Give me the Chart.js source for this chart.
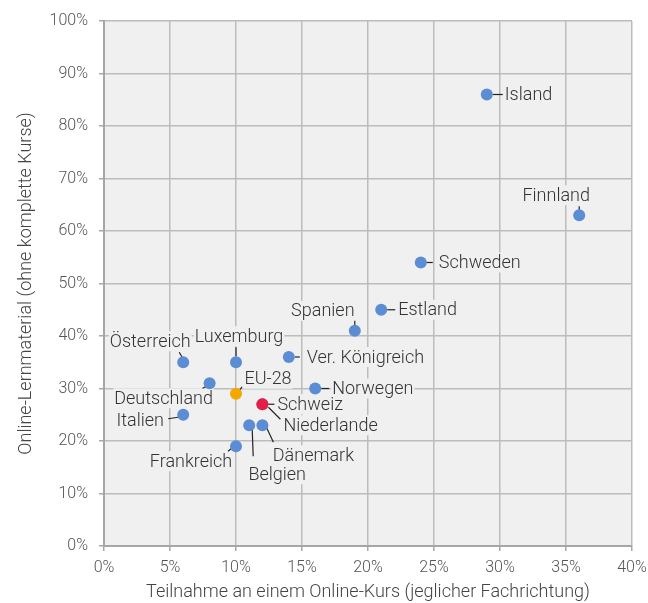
<!DOCTYPE html>
<html>
<head>
<meta charset="utf-8">
<script src="https://cdn.jsdelivr.net/npm/chart.js@4/dist/chart.umd.min.js"></script>
<style>
  html, body { margin: 0; padding: 0; background: #fff; }
  #wrap { width: 648px; height: 603px; }
</style>
</head>
<body>
<div id="wrap"><canvas id="chart"></canvas></div>
<script>
// Werte in Prozent
const countries = ['Island', 'Finnland', 'Schweden', 'Estland', 'Spanien', 'Ver. Königreich',
    'Norwegen', 'Österreich', 'Luxemburg', 'Deutschland', 'Italien', 'Niederlande',
    'Dänemark', 'Belgien', 'Frankreich', 'EU-28', 'Schweiz'];
const courseShare = [29, 36, 24, 21, 19, 14, 16, 6, 10, 8, 6, 12, 12, 11, 10, 10, 12];
const materialShare = [86, 63, 54, 45, 41, 36, 30, 35, 35, 31, 25, 27, 23, 23, 19, 29, 27];
const xTicks = [0, 5, 10, 15, 20, 25, 30, 35, 40];
const yTicks = [0, 10, 20, 30, 40, 50, 60, 70, 80, 90, 100];

const BLUE = '#5b8dd4', ORANGE = '#f5a700', RED = '#e61d45';
const pointColors = countries.map(c => c === 'EU-28' ? ORANGE : c === 'Schweiz' ? RED : BLUE);

// Beschriftung: Versatz des Textes zum Punkt, Ausrichtung, Führungslinie (Pixel)
const labelStyle = {
    'Island':          { dx: 18,  dy: 0,   align: 'left',   line: [6, 0, 16, 0] },
    'Finnland':        { dx: -23, dy: -20, align: 'center', line: [0, -9, 0, -4] },
    'Schweden':        { dx: 18,  dy: 0,   align: 'left',   line: [5, 0, 12, 0] },
    'Estland':         { dx: 17,  dy: 0,   align: 'left',   line: [6, 0, 14, 0] },
    'Spanien':         { dx: -32, dy: -20, align: 'center', line: [0, -10, 0, -3] },
    'Ver. Königreich': { dx: 18,  dy: 0,   align: 'left',   line: [6, 0, 11, 0] },
    'Norwegen':        { dx: 17,  dy: 0,   align: 'left',   line: [6, 0, 14, 0] },
    'Österreich':      { dx: -33, dy: -21, align: 'center', line: [-4, -10, -1, -5] },
    'Luxemburg':       { dx: 3,   dy: -26, align: 'center', line: [0, -15, 0, -6] },
    'Deutschland':     { dx: -46, dy: 15,  align: 'center', line: [-7, 5, -1, 2] },
    'EU-28':           { dx: 32,  dy: -15, align: 'center', line: [2, -1, 6, -7] },
    'Italien':         { dx: -43, dy: 6,   align: 'center', line: [-15, 4, -2, 2] },
    'Schweiz':         { dx: 15,  dy: 0,   align: 'left',   line: [5, 0, 12, 0] },
    'Niederlande':     { dx: 21,  dy: 21,  align: 'left',   line: [6, 3, 18, 15] },
    'Dänemark':        { dx: 51,  dy: 30,  align: 'center', line: [4, 2, 11, 17] },
    'Belgien':         { dx: 28,  dy: 49,  align: 'center', line: [3, 4, 4, 31] },
    'Frankreich':      { dx: -45, dy: 15,  align: 'center', line: [-8, 5, -3, 1] }
};

const PLOT_BG = '#f0f0f0';
const FONT = 'Roboto';

const plotBackground = {
    id: 'plotBackground',
    beforeDraw(chart) {
        const { ctx, chartArea: a } = chart;
        ctx.save();
        ctx.fillStyle = PLOT_BG;
        ctx.fillRect(a.left, a.top, a.right - a.left, a.bottom - a.top);
        ctx.restore();
    }
};

const pointLabels = {
    id: 'pointLabels',
    beforeDatasetsDraw(chart) {
        const { ctx } = chart;
        const meta = chart.getDatasetMeta(0);
        ctx.save();
        ctx.font = '300 18px ' + FONT;
        ctx.textBaseline = 'middle';
        countries.forEach((name, i) => {
            const s = labelStyle[name];
            const p = meta.data[i];
            const tx = p.x + s.dx, ty = p.y + s.dy;
            const w = ctx.measureText(name).width;
            const left = s.align === 'left' ? tx : tx - w / 2;
            ctx.fillStyle = PLOT_BG;
            ctx.fillRect(left - 1, ty - 10, w + 2, 20);
            ctx.strokeStyle = '#222';
            ctx.lineWidth = 1.2;
            ctx.beginPath();
            ctx.moveTo(p.x + s.line[0], p.y + s.line[1]);
            ctx.lineTo(p.x + s.line[2], p.y + s.line[3]);
            ctx.stroke();
            ctx.fillStyle = '#333';
            ctx.textAlign = s.align;
            ctx.fillText(name, tx, ty + 1);
        });
        ctx.restore();
    }
};

const ctx = document.getElementById('chart').getContext('2d');
new Chart(ctx, {
    type: 'scatter',
    data: {
        datasets: [{
            data: countries.map((c, i) => ({ x: courseShare[i], y: materialShare[i] })),
            pointBackgroundColor: pointColors,
            pointBorderWidth: 0,
            pointRadius: 6,
            pointHoverRadius: 6
        }]
    },
    options: {
        responsive: true,
        maintainAspectRatio: false,
        animation: false,
        events: [],
        layout: { padding: { top: 21, right: 16, left: 0, bottom: 0 } },
        plugins: { legend: { display: false }, tooltip: { enabled: false } },
        scales: {
            x: {
                type: 'linear',
                min: 0, max: 40,
                afterBuildTicks: s => { s.ticks = xTicks.map(v => ({ value: v })); },
                afterFit: s => { s.height = 57; s.paddingRight = 0; s.paddingLeft = 0; },
                ticks: {
                    callback: v => v + '%',
                    color: '#555',
                    padding: 7,
                    maxRotation: 0,
                    font: { family: FONT, size: 16, weight: '300' }
                },
                grid: { color: '#bcbcbc', lineWidth: 1.5, tickLength: 5, tickColor: '#a8a8a8' },
                border: { color: '#a6a6a6', width: 2 },
                title: {
                    display: true,
                    text: 'Teilnahme an einem Online-Kurs (jeglicher Fachrichtung)',
                    color: '#444',
                    padding: { top: 0, bottom: 0 },
                    font: { family: FONT, size: 18, weight: '300' }
                }
            },
            y: {
                type: 'linear',
                min: 0, max: 100,
                afterBuildTicks: s => { s.ticks = yTicks.map(v => ({ value: v })); },
                afterFit: s => { s.width = 104; s.paddingTop = 0; s.paddingBottom = 0; },
                ticks: {
                    callback: v => v + '%',
                    color: '#555',
                    padding: 11,
                    font: { family: FONT, size: 16, weight: '300' }
                },
                grid: { color: '#bcbcbc', lineWidth: 1.5, tickLength: 5, tickColor: '#a8a8a8' },
                border: { color: '#a6a6a6', width: 2 },
                title: {
                    display: true,
                    text: 'Online-Lernmaterial (ohne komplette Kurse)',
                    color: '#444',
                    padding: { top: 16, bottom: 0 },
                    font: { family: FONT, size: 18, weight: '300' }
                }
            }
        }
    },
    plugins: [plotBackground, pointLabels]
});
</script>
</body>
</html>
